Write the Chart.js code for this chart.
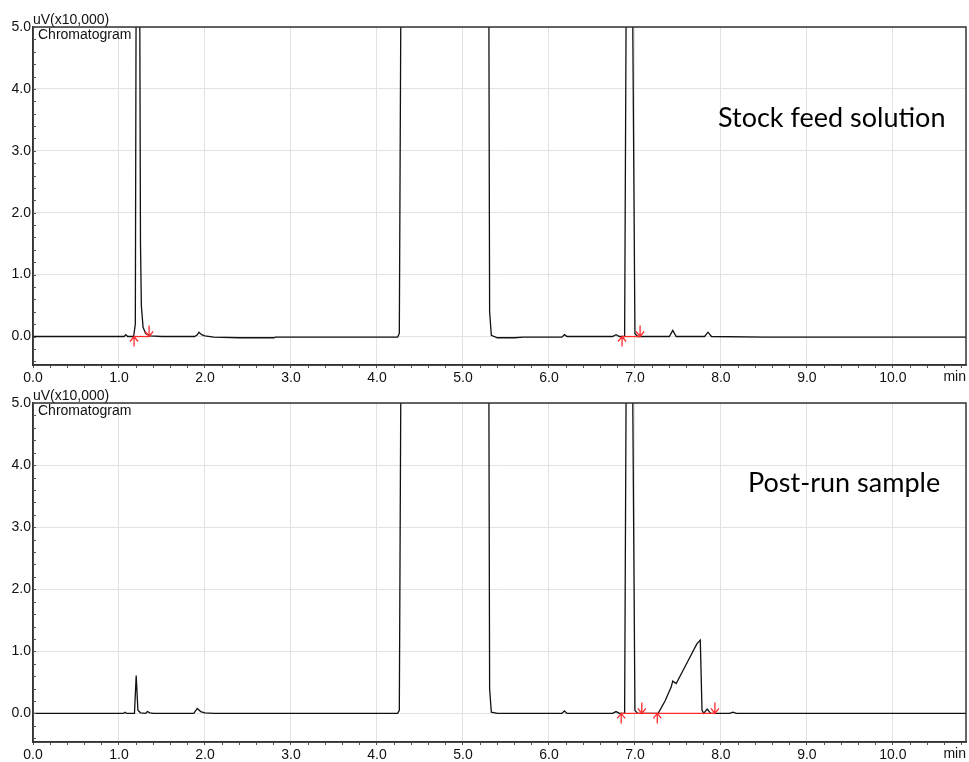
<!DOCTYPE html>
<html>
<head>
<meta charset="utf-8">
<script src="https://cdn.jsdelivr.net/npm/chart.js@4.4.1/dist/chart.umd.min.js"></script>
<style>
  html, body { margin: 0; padding: 0; background: #fff; width: 969px; height: 762px; overflow: hidden; }
  canvas { position: absolute; left: 0; }
  #stockCanvas { top: 0; }
  #postCanvas { top: 379px; }
</style>
</head>
<body>
<canvas id="stockCanvas" width="969" height="387"></canvas>
<canvas id="postCanvas" width="969" height="383"></canvas>
<script>
// Retention time (min) and detector signal (uV x10,000) for each run.
// Saturated peaks run above the 5.0 full-scale limit and are clipped.
const stockTime = [
  0.00, 0.50, 1.00, 1.06, 1.08, 1.10, 1.17, 1.19, 1.20, 1.24, 1.25, 1.26, 1.28, 1.31, 1.36, 1.50,
  1.88, 1.91, 1.93, 1.96, 2.00, 2.10, 2.40, 2.80, 2.82, 3.50, 4.24, 4.26, 4.28, 5.30, 5.31, 5.33,
  5.40, 5.60, 5.70, 6.15, 6.18, 6.21, 6.74, 6.78, 6.82, 6.88, 6.90, 6.97, 7.00, 7.03, 7.40, 7.44,
  7.48, 7.81, 7.85, 7.89, 8.50, 10.85
];
const stockSignal = [
  0.00, 0.00, 0.00, 0.00, 0.03, 0.00, 0.00, 0.20, 6.00, 6.00, 1.50, 0.50, 0.15, 0.05, 0.01, 0.00,
  0.00, 0.03, 0.07, 0.03, 0.01, -0.01, -0.02, -0.02, -0.01, -0.01, -0.01, 0.05, 6.00, 6.00, 0.40, 0.02,
  -0.02, -0.02, -0.01, -0.01, 0.03, 0.00, 0.00, 0.03, 0.00, 0.00, 6.00, 6.00, 0.05, 0.00, 0.00, 0.10,
  0.00, 0.00, 0.07, 0.00, -0.01, -0.01
];

const postTime = [
  0.00, 1.00, 1.05, 1.07, 1.09, 1.18, 1.20, 1.22, 1.25, 1.31, 1.33, 1.36, 1.40, 1.87, 1.91, 1.95,
  2.00, 2.10, 4.24, 4.26, 4.28, 5.30, 5.31, 5.33, 5.40, 6.15, 6.18, 6.21, 6.74, 6.78, 6.82, 6.88,
  6.90, 6.97, 7.00, 7.03, 7.27, 7.35, 7.42, 7.44, 7.48, 7.60, 7.72, 7.76, 7.78, 7.80, 7.84, 7.88,
  8.10, 8.14, 8.18, 10.85
];
const postSignal = [
  0.00, 0.00, 0.00, 0.02, 0.00, 0.00, 0.61, 0.05, 0.01, 0.00, 0.03, 0.01, 0.00, 0.00, 0.08, 0.03,
  0.01, 0.00, 0.00, 0.05, 6.00, 6.00, 0.40, 0.02, 0.00, 0.00, 0.04, 0.00, 0.00, 0.03, 0.00, 0.00,
  6.00, 6.00, 0.05, 0.00, 0.00, 0.20, 0.42, 0.52, 0.48, 0.80, 1.12, 1.18, 0.05, 0.00, 0.07, 0.00,
  0.00, 0.02, 0.00, 0.00
];

// Integration marks: peak start (up arrow), peak end (down arrow), drawn baselines.
const stockPeakStarts = [1.175, 6.85];
const stockPeakEnds   = [1.35, 7.06];
const stockBaselines  = [[1.175, 1.35], [6.85, 7.06]];
const postPeakStarts  = [6.84, 7.26];
const postPeakEnds    = [7.08, 7.93];
const postBaselines   = [[6.84, 7.93]];

// Axis ticks
const xMajorTicks = [0, 1, 2, 3, 4, 5, 6, 7, 8, 9, 10];
const yMajorTicks = [0, 1, 2, 3, 4, 5];
const minorStep = 0.2;
const xMin = 0, xMax = 10.85;
const yMin = -0.46, yMax = 5.0;

const AXIS_FONT = { family: '"Liberation Sans", Arial, sans-serif', size: 14 };
const isMajor = (v, majors) => majors.some(m => Math.abs(m - v) < 1e-6);

function stepTicks(lo, hi) {
  const out = [];
  const first = Math.ceil(lo / minorStep - 1e-9);
  for (let i = first; i * minorStep <= hi + 1e-9; i++) {
    out.push({ value: Math.round(i * minorStep * 10) / 10 });
  }
  return out;
}

const panelDecor = {
  id: 'panelDecor',
  afterDatasetsDraw(chart, args, opts) {
    const { ctx, scales: { x, y } } = chart;
    ctx.save();
    // integration baselines and arrows
    ctx.strokeStyle = '#ff2a2a';
    ctx.lineWidth = 1.3;
    const y0 = y.getPixelForValue(0);
    opts.baselines.forEach(([s, e]) => {
      ctx.beginPath();
      ctx.moveTo(x.getPixelForValue(s), y0);
      ctx.lineTo(x.getPixelForValue(e), y0);
      ctx.stroke();
    });
    opts.starts.forEach(t => {
      const px = x.getPixelForValue(t);
      ctx.beginPath();
      ctx.moveTo(px, y0); ctx.lineTo(px, y0 + 10);
      ctx.moveTo(px - 4, y0 + 5); ctx.lineTo(px, y0); ctx.lineTo(px + 4, y0 + 5);
      ctx.stroke();
    });
    opts.ends.forEach(t => {
      const px = x.getPixelForValue(t);
      ctx.beginPath();
      ctx.moveTo(px, y0); ctx.lineTo(px, y0 - 11);
      ctx.moveTo(px - 4, y0 - 5); ctx.lineTo(px, y0); ctx.lineTo(px + 4, y0 - 5);
      ctx.stroke();
    });
    ctx.restore();
  },
  afterDraw(chart, args, opts) {
    const { ctx, chartArea: a, scales: { y } } = chart;
    ctx.save();
    // frame
    ctx.strokeStyle = '#333';
    ctx.lineWidth = 1.5;
    ctx.strokeRect(a.left, a.top, a.right - a.left, a.bottom - a.top);
    // inner y tick marks
    ctx.lineWidth = 1;
    ctx.strokeStyle = '#555';
    y.ticks.forEach(t => {
      const py = Math.round(y.getPixelForValue(t.value)) + 0.5;
      ctx.beginPath();
      ctx.moveTo(a.left, py); ctx.lineTo(a.left + 3, py);
      ctx.stroke();
    });
    // texts
    ctx.fillStyle = '#111';
    ctx.font = '14px "Liberation Sans", Arial, sans-serif';
    ctx.textAlign = 'left';
    ctx.textBaseline = 'alphabetic';
    ctx.fillText('uV(x10,000)', a.left, a.top - 3);
    ctx.fillText('Chromatogram', a.left + 5, a.top + 12);
    ctx.textAlign = 'right';
    ctx.textBaseline = 'middle';
    ctx.fillText('min', a.right, a.bottom + 12);
    ctx.font = '27px Lato, "Open Sans", sans-serif';
    ctx.textAlign = 'left';
    ctx.textBaseline = 'alphabetic';
    ctx.fillStyle = '#000';
    ctx.fillText(opts.title, opts.tx, opts.ty);
    ctx.restore();
  }
};

function makeChart(canvasId, time, signal, marks, padTop, xAxisHeight) {
  const points = time.map((t, i) => ({ x: t, y: signal[i] }));
  return new Chart(document.getElementById(canvasId), {
    type: 'scatter',
    data: {
      datasets: [{
        data: points,
        showLine: true,
        borderColor: '#111',
        borderWidth: 1.3,
        pointRadius: 0,
        tension: 0,
        clip: 0
      }]
    },
    options: {
      responsive: false,
      animation: false,
      devicePixelRatio: 1,
      layout: { padding: { top: padTop, right: 3, bottom: 0, left: 0 } },
      plugins: {
        legend: { display: false },
        tooltip: { enabled: false },
        panelDecor: marks
      },
      scales: {
        x: {
          type: 'linear',
          min: xMin,
          max: xMax,
          afterBuildTicks: s => { s.ticks = stepTicks(xMin, xMax); },
          afterFit: s => { s.height = xAxisHeight; },
          grid: {
            color: c => (c.tick && isMajor(c.tick.value, xMajorTicks)) ? '#e2e2e2' : 'rgba(0,0,0,0)',
            tickColor: '#555',
            tickLength: 3,
            lineWidth: 1
          },
          border: { color: '#333', width: 1.5 },
          ticks: {
            autoSkip: false,
            maxRotation: 0,
            padding: 2,
            color: '#111',
            font: AXIS_FONT,
            callback: v => isMajor(v, xMajorTicks) ? v.toFixed(1) : ''
          }
        },
        y: {
          type: 'linear',
          min: yMin,
          max: yMax,
          afterBuildTicks: s => { s.ticks = stepTicks(yMin, yMax); },
          afterFit: s => { s.width = 33; },
          grid: {
            color: c => (c.tick && isMajor(c.tick.value, yMajorTicks)) ? '#e2e2e2' : 'rgba(0,0,0,0)',
            drawTicks: false,
            lineWidth: 1
          },
          border: { color: '#333', width: 1.5 },
          ticks: {
            autoSkip: false,
            padding: 2,
            color: '#111',
            font: AXIS_FONT,
            callback: v => isMajor(v, yMajorTicks) ? v.toFixed(1) : ''
          }
        }
      }
    },
    plugins: [panelDecor]
  });
}

makeChart('stockCanvas', stockTime, stockSignal, {
  starts: stockPeakStarts, ends: stockPeakEnds, baselines: stockBaselines,
  title: 'Stock feed solution', tx: 718, ty: 127
}, 27, 22);

makeChart('postCanvas', postTime, postSignal, {
  starts: postPeakStarts, ends: postPeakEnds, baselines: postBaselines,
  title: 'Post-run sample', tx: 748, ty: 113
}, 24, 20);
</script>
</body>
</html>
